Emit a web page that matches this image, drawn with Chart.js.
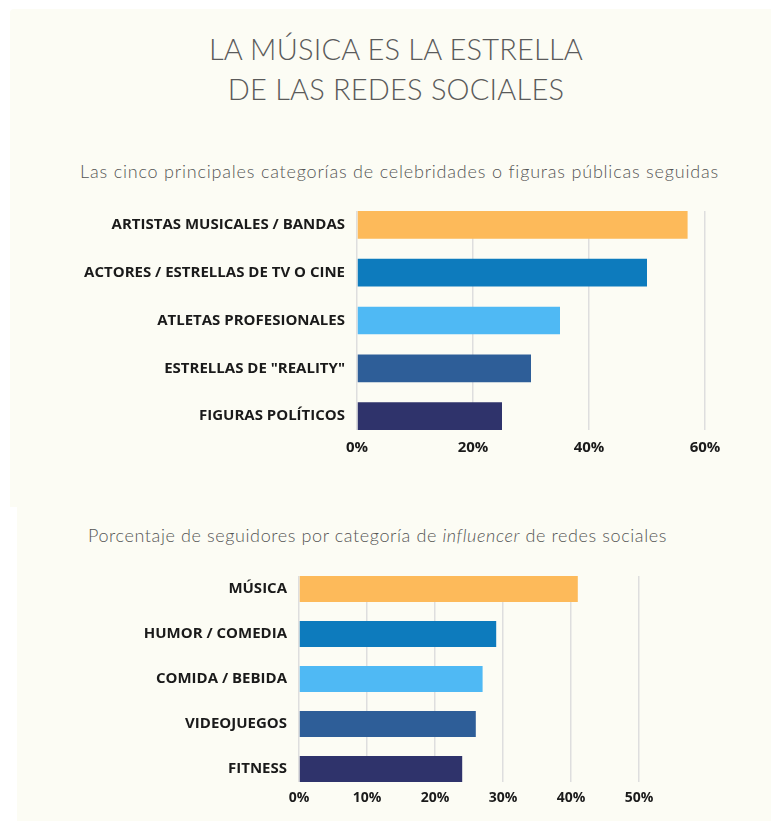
<!DOCTYPE html>
<html lang="es">
<head>
<meta charset="utf-8">
<title>La música es la estrella de las redes sociales</title>
<script src="https://cdn.jsdelivr.net/npm/chart.js@4.4.1/dist/chart.umd.min.js"></script>
<style>
  html, body { margin: 0; padding: 0; background: #ffffff; }
  body { width: 771px; height: 821px; position: relative; overflow: hidden; }
  .panel { position: absolute; background: #fcfcf4; }
  #panelTop { left: 10px; top: 9px; width: 761px; height: 498px; border-top-left-radius: 4px; }
  #panelBottom { left: 17px; top: 507px; width: 754px; height: 314px; }
  .title {
    position: absolute; left: 0; width: 792px; top: 29px;
    text-align: center; font-family: "Lato", sans-serif; font-weight: 300;
    font-size: 29px; line-height: 40px; color: #5a5a5a; letter-spacing: 0.2px;
  }
  .sub {
    position: absolute; text-align: center; font-family: "Lato", sans-serif;
    font-weight: 300; font-size: 18px; color: #555555; white-space: nowrap;
  }
  #sub1 { left: 0; width: 799px; top: 160px; letter-spacing: 0.8px; }
  #sub2 { left: 0; width: 755px; top: 524px; letter-spacing: 0.6px; }
  canvas { position: absolute; }
  #chartTop { left: 10px; top: 190px; }
  #chartBottom { left: 17px; top: 555px; }
</style>
</head>
<body>
<div class="panel" id="panelTop"></div>
<div class="panel" id="panelBottom"></div>
<div class="title">LA MÚSICA ES LA ESTRELLA<br>DE LAS REDES SOCIALES</div>
<div class="sub" id="sub1">Las cinco principales categorías de celebridades o figuras públicas seguidas</div>
<div class="sub" id="sub2">Porcentaje de seguidores por categoría de <i>influencer</i> de redes sociales</div>
<canvas id="chartTop" width="761" height="280"></canvas>
<canvas id="chartBottom" width="754" height="266"></canvas>
<script>
// Celebrity / public-figure categories followed (%)
const celebCategories = [
  'ARTISTAS MUSICALES / BANDAS',
  'ACTORES / ESTRELLAS DE TV O CINE',
  'ATLETAS PROFESIONALES',
  'ESTRELLAS DE "REALITY"',
  'FIGURAS POLÍTICOS'
];
const celebValues = [57, 50, 35, 30, 25];
const celebTicks = [0, 20, 40, 60];

// Followers by social-media influencer category (%)
const influencerCategories = [
  'MÚSICA',
  'HUMOR / COMEDIA',
  'COMIDA / BEBIDA',
  'VIDEOJUEGOS',
  'FITNESS'
];
const influencerValues = [41, 29, 27, 26, 24];
const influencerTicks = [0, 10, 20, 30, 40, 50];

const barColors = ['#fdba5a', '#0d7bbd', '#4fb9f4', '#2e5e98', '#2f336b'];

const labelFont = { family: 'Open Sans', weight: 'bold', size: 15 };

function makeChart(canvasId, categories, values, ticks, axisWidth, padRight, axisHeight, tickPad, tickSize) {
  const points = values.map((v, i) => ({ x: v, y: i }));
  return new Chart(document.getElementById(canvasId), {
    type: 'bar',
    data: {
      datasets: [{
        data: points,
        backgroundColor: barColors,
        borderWidth: 0,
        categoryPercentage: 1,
        barPercentage: 0.58
      }]
    },
    options: {
      indexAxis: 'y',
      responsive: false,
      animation: false,
      layout: { padding: { top: 19, right: padRight, left: 0, bottom: 0 } },
      plugins: { legend: { display: false }, tooltip: { enabled: false } },
      scales: {
        x: {
          type: 'linear',
          bounds: 'data',
          min: ticks[0],
          max: ticks[ticks.length - 1],
          afterBuildTicks: (scale) => { scale.ticks = ticks.map(v => ({ value: v })); },
          afterFit: (scale) => { scale.height = axisHeight; },
          grid: { color: '#dedede', lineWidth: 1.5, drawTicks: false },
          border: { display: false },
          ticks: {
            padding: tickPad,
            color: '#1a1a1a',
            font: { family: 'Open Sans', weight: 'bold', size: tickSize },
            callback: (v) => v + '%'
          }
        },
        y: {
          type: 'linear',
          bounds: 'data',
          offset: false,
          reverse: true,
          min: -0.29,
          max: categories.length - 1 + 0.29,
          afterBuildTicks: (scale) => { scale.ticks = categories.map((_, i) => ({ value: i })); },
          afterFit: (scale) => { scale.width = axisWidth; },
          grid: { display: false, drawTicks: false, offset: false },
          border: { display: false },
          ticks: {
            padding: 12,
            color: '#1a1a1a',
            font: labelFont,
            callback: (v) => categories[v]
          }
        }
      }
    }
  });
}

makeChart('chartTop', celebCategories, celebValues, celebTicks, 347, 66, 40, 9, 15);
makeChart('chartBottom', influencerCategories, influencerValues, influencerTicks, 282, 132, 39, 8, 14);
</script>
</body>
</html>
